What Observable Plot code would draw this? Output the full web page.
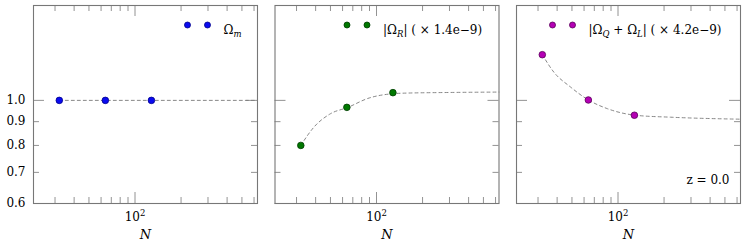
<!DOCTYPE html>
<html><head><meta charset="utf-8">
<script src="https://cdn.jsdelivr.net/npm/d3@7"></script>
<script src="https://cdn.jsdelivr.net/npm/@observablehq/plot@0.6"></script>
<style>
body{margin:0;background:#fff}
#chart svg, #chart svg text { font-family: "DejaVu Serif", serif !important; }
</style>
</head><body><div id="chart"></div>
<script>
// ---- data ----
const panels = ["m", "R", "QL"];
const legendLabels = ["Ω_{m}", "|Ω_{R}| ( × 1.4e−9)", "|Ω_{Q} + Ω_{L}| ( × 4.2e−9)"];
const fills = ["#0a0af0", "#007800", "#b400b4"];
const strokes = ["#00008c", "#003c00", "#5a005a"];
const pointN = [32, 64, 128];
const valuesM = [1.0, 1.0, 1.0];
const valuesR = [0.80, 0.966, 1.039];
const valuesQL = [1.254, 1.002, 0.929];
const curveNM = [32, 632];
const curveM = [1.0, 1.0];
const curveNR = [32, 39, 50, 65, 88, 130, 145, 307, 632];
const curveR = [0.80, 0.876, 0.936, 0.966, 1.010, 1.034, 1.036, 1.040, 1.042];
const curveNQL = [32, 38, 49, 64, 85, 130, 222, 632];
const curveQL = [1.254, 1.151, 1.068, 1.002, 0.960, 0.929, 0.920, 0.911];
const xMinorTicks = [30, 40, 50, 60, 70, 80, 90, 200, 300, 400, 500, 600];
const xMajorTicks = [100];
const xTickLabel = "10^{2}";
const yMinorTicks = [0.6, 0.7, 0.8, 0.9];
const yMajorTicks = [1.0];
const yTickLabels = [0.6, 0.7, 0.8, 0.9, 1.0];
const zLabel = "z = 0.0";

// ---- tables ----
const pointValues = [valuesM, valuesR, valuesQL];
const curveNs = [curveNM, curveNR, curveNQL];
const curveVs = [curveM, curveR, curveQL];
const points = panels.flatMap((p, i) => pointN.map((n, j) => ({panel: p, N: n, v: pointValues[i][j], i})));
const curves = panels.flatMap((p, i) => curveNs[i].map((n, j) => ({panel: p, N: n, v: curveVs[i][j]})));

const innerH = 198, innerW = 224, minorLen = 6, majorLen = 11;
const tickColor = "#777";
const serif = "'DejaVu Serif', serif";
const legendStart = {m: 34, R: 116, QL: 152};

const legendMarks = panels.flatMap((p, i) => {
  const d = [{panel: p, label: legendLabels[i]}];
  const s = legendStart[p];
  return [
    Plot.dot(d, {fx: "panel", frameAnchor: "top-right", dx: -(s + 36), dy: 19.5, r: 3, fill: fills[i], stroke: strokes[i], strokeWidth: 0.8}),
    Plot.dot(d, {fx: "panel", frameAnchor: "top-right", dx: -(s + 16), dy: 19.5, r: 3, fill: fills[i], stroke: strokes[i], strokeWidth: 0.8}),
    Plot.text(d, {fx: "panel", frameAnchor: "top-right", dx: -s, dy: 19.5, text: "label", textAnchor: "start", fontSize: 12, fontFamily: serif, fill: "#000"})
  ];
});

const plot = Plot.plot({
  width: 747, height: 249,
  marginLeft: 33, marginRight: 7, marginTop: 5, marginBottom: 46,
  style: {fontFamily: serif, fontSize: "12px", color: "#000", background: "#fff", overflow: "visible"},
  fx: {domain: panels, paddingInner: 0.0725, paddingOuter: 0, round: false, axis: null, label: null},
  x: {type: "log", domain: [21.7, 632]},
  y: {type: "log", domain: [0.6, 1.6]},
  marks: [
    // inward ticks
    Plot.tickX(xMinorTicks, {x: d => d, insetTop: innerH - minorLen, stroke: tickColor, strokeWidth: 0.8}),
    Plot.tickX(xMinorTicks, {x: d => d, insetBottom: innerH - minorLen, stroke: tickColor, strokeWidth: 0.8}),
    Plot.tickX(xMajorTicks, {x: d => d, insetTop: innerH - majorLen, stroke: tickColor, strokeWidth: 0.8}),
    Plot.tickX(xMajorTicks, {x: d => d, insetBottom: innerH - majorLen, stroke: tickColor, strokeWidth: 0.8}),
    Plot.tickY(yMinorTicks, {y: d => d, insetRight: innerW - minorLen, stroke: tickColor, strokeWidth: 0.8}),
    Plot.tickY(yMinorTicks, {y: d => d, insetLeft: innerW - minorLen, stroke: tickColor, strokeWidth: 0.8}),
    Plot.tickY(yMajorTicks, {y: d => d, insetRight: innerW - majorLen, stroke: tickColor, strokeWidth: 0.8}),
    Plot.tickY(yMajorTicks, {y: d => d, insetLeft: innerW - majorLen, stroke: tickColor, strokeWidth: 0.8}),
    Plot.frame({stroke: tickColor, strokeWidth: 1.1}),
    // axis labels
    Plot.axisY({ticks: yTickLabels, tickSize: 0, tickPadding: 8, tickFormat: d3.format(".1f"), label: null, fontSize: 12, fontFamily: serif, fill: "#000"}),
    Plot.axisX({ticks: xMajorTicks, tickSize: 0, tickPadding: 9, tickFormat: () => xTickLabel, label: null, fontSize: 12, fontFamily: serif, fill: "#000"}),
    Plot.text([0], {frameAnchor: "bottom", dy: 35, text: () => "N", fontStyle: "italic", fontSize: 13, fontFamily: serif, fill: "#000"}),
    // curves and points
    Plot.line(curves, {x: "N", y: "v", fx: "panel", z: "panel", curve: "monotone-x", stroke: "#7a7a7a", strokeWidth: 0.9, strokeDasharray: "3,3"}),
    Plot.dot(points, {x: "N", y: "v", fx: "panel", r: 3.3, fill: d => fills[d.i], stroke: d => strokes[d.i], strokeWidth: 0.8}),
    ...legendMarks,
    Plot.text([{panel: "QL"}], {fx: "panel", frameAnchor: "bottom-right", dx: -11, dy: -20, text: () => zLabel, textAnchor: "end", fontSize: 12, fontFamily: serif, fill: "#000"})
  ]
});

// math-like subscripts / superscripts as tspans
function mathify(svg) {
  svg.querySelectorAll("text").forEach(t => {
    const s = t.textContent;
    if (!/[_^]\{/.test(s)) return;
    while (t.firstChild) t.removeChild(t.firstChild);
    let shift = 0;
    const add = (str, kind) => {
      if (!str) return;
      const ts = document.createElementNS("http://www.w3.org/2000/svg", "tspan");
      ts.textContent = str;
      if (kind === "_") { ts.setAttribute("font-style", "italic"); ts.setAttribute("font-size", "8.5"); ts.setAttribute("dy", 3 - shift); shift = 3; }
      else if (kind === "^") { ts.setAttribute("font-size", "8.5"); ts.setAttribute("dy", -5 - shift); shift = -5; }
      else if (shift) { ts.setAttribute("dy", -shift); shift = 0; }
      t.appendChild(ts);
    };
    const re = /([_^])\{([^}]*)\}/g;
    let last = 0, m;
    while ((m = re.exec(s))) { add(s.slice(last, m.index), null); add(m[2], m[1]); last = re.lastIndex; }
    add(s.slice(last), null);
  });
}
mathify(plot);
document.getElementById("chart").appendChild(plot);
</script>
</body></html>
